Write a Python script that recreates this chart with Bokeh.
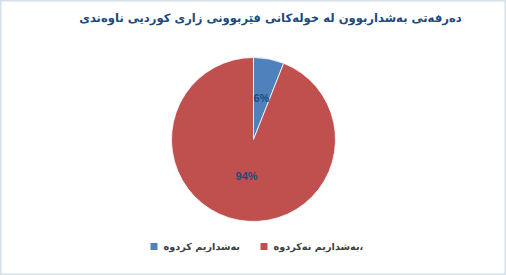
import math
from bokeh.plotting import figure
from bokeh.models import Range1d, ColumnDataSource
from bokeh.core.properties import value
from bokeh.embed import file_html
from bokeh.resources import INLINE

title_text = "دەرفەتی بەشداربوون لە خولەکانی فێربوونی زاری کوردیی ناوەندی"
categories = ["بەشداریم کردوە", "بەشداریم نەکردوە،"]
shares = [6, 94]
colors = ["#4F81BD", "#C0504D"]

W, H = 506, 275
p = figure(width=W, height=H, output_backend="svg", toolbar_location=None,
           x_range=Range1d(0, W), y_range=Range1d(0, H), min_border=0,
           match_aspect=False)
p.axis.visible = False
p.grid.visible = False
p.outline_line_color = "#D5DFEA"
p.outline_line_width = 2
p.background_fill_color = "white"
p.border_fill_color = "white"

cx, cy, r = 253, H - 139, 82
total = sum(shares)
starts, ends, lx, ly, labels = [], [], [], [], []
a = math.pi / 2
for s in shares:
    sweep = 2 * math.pi * s / total
    starts.append(a)
    ends.append(a - sweep)
    a -= sweep
src = ColumnDataSource(dict(start=starts, end=ends, color=colors, cat=categories,
                            share=shares))
p.wedge(x=cx, y=cy, radius=r, start_angle="start", end_angle="end",
        direction="clock", fill_color="color", line_color="white",
        line_width=0.8, source=src)

# data labels
lab_r = [0.52 * r, 0.45 * r]
for i, s in enumerate(shares):
    mid = (starts[i] + ends[i]) / 2
    lx.append(cx + lab_r[i] * math.cos(mid))
    ly.append(cy + lab_r[i] * math.sin(mid))
    labels.append(f"{s}%")
p.text(x=lx, y=ly, text=labels, text_align="center", text_baseline="middle",
       text_font=value("Liberation Sans"), text_font_style="bold",
       text_font_size="11px", text_color="#1F497D")

# title
p.text(x=[270], y=[H - 17], text=[title_text], text_align="center",
       text_baseline="middle", text_font=value("DejaVu Sans"),
       text_font_style="bold", text_font_size="11.6px", text_color="#1F497D")

# legend (drawn manually: square then label)
leg_x = [153.5, 263.5]
leg_y = H - 246
p.rect(x=leg_x, y=[leg_y] * 2, width=7, height=7, fill_color=colors,
       line_color=None)
p.text(x=[x + 9.5 for x in leg_x], y=[leg_y] * 2, text=categories,
       text_align="left", text_baseline="middle",
       text_font=value("DejaVu Sans"), text_font_style="bold",
       text_font_size="9.7px", text_color="#404040")

open("out.html", "w").write(file_html(p, INLINE))
